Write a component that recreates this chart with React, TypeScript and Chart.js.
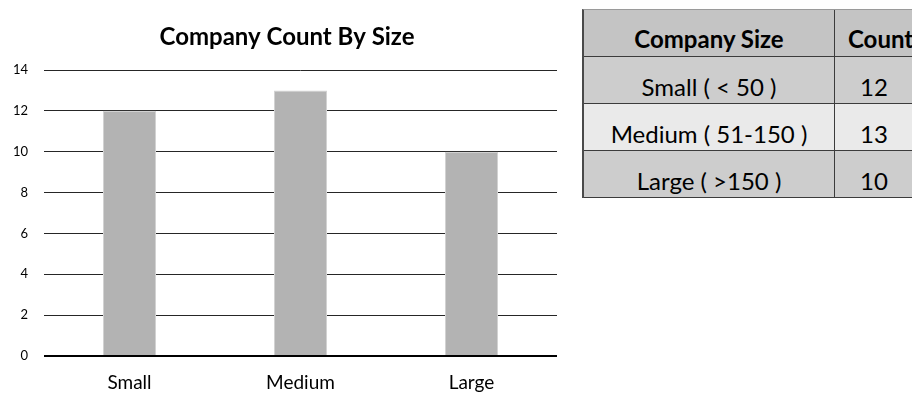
import React, { useEffect, useRef } from "react";
import { Chart, registerables } from "chart.js";

Chart.register(...registerables);

// Chart data
const categories: string[] = ["Small", "Medium", "Large"];
const companyCounts: number[] = [12, 13, 10];
const yMin = 0;
const yMax = 14;
const yStep = 2;

// Summary table data
const tableHeaders: string[] = ["Company Size", "Count"];
const sizeRangeLabels: string[] = ["Small ( < 50 )", "Medium ( 51-150 )", "Large ( >150 )"];
const tableCounts: number[] = [12, 13, 10];

const FONT = "Lato, 'Open Sans', sans-serif";

function CountChart() {
  const canvasRef = useRef<HTMLCanvasElement | null>(null);

  useEffect(() => {
    const canvas = canvasRef.current;
    if (!canvas) return;
    const chart = new Chart(canvas, {
      type: "bar",
      data: {
        labels: categories,
        datasets: [
          {
            data: companyCounts,
            backgroundColor: "#b3b3b3",
            borderColor: "#d2d2d2",
            borderWidth: 1,
            borderSkipped: "bottom",
            barPercentage: 0.31,
            categoryPercentage: 1,
          },
        ],
      },
      options: {
        animation: false,
        responsive: false,
        maintainAspectRatio: false,
        devicePixelRatio: 1,
        layout: { padding: { left: 0, right: 0, top: 0, bottom: 0 } },
        plugins: {
          legend: { display: false },
          tooltip: { enabled: false },
          title: {
            display: true,
            text: "Company Count By Size",
            color: "#000000",
            font: { family: FONT, size: 24, weight: "bold", lineHeight: 1.2 },
            padding: { top: 23, bottom: 18.2 },
          },
        },
        scales: {
          x: {
            grid: { display: false, drawTicks: false },
            border: { display: false },
            ticks: {
              color: "#000000",
              padding: 15.6,
              font: { family: FONT, size: 19 },
            },
            afterFit: (scale: any) => {
              scale.height = 37;
            },
          },
          y: {
            min: yMin,
            max: yMax,
            ticks: {
              stepSize: yStep,
              color: "#000000",
              padding: 16,
              font: { family: FONT, size: 13 },
            },
            grid: {
              drawTicks: false,
              color: (ctx: any) => (ctx.tick && ctx.tick.value === 0 ? "#000000" : "#262626"),
              lineWidth: (ctx: any) => (ctx.tick && ctx.tick.value === 0 ? 2 : 1),
            },
            border: { display: false },
            afterFit: (scale: any) => {
              scale.width = 44;
            },
          },
          // empty right-hand margin axis, keeps the plot clear of the table side
          yRight: {
            position: "right",
            display: true,
            grid: { display: false, drawTicks: false },
            border: { display: false },
            ticks: { display: false },
            afterFit: (scale: any) => {
              scale.width = 17;
            },
          },
        },
      },
    });
    return () => chart.destroy();
  }, []);

  return (
    <canvas
      ref={canvasRef}
      width={574}
      height={393}
      style={{ position: "absolute", left: 0, top: 0, width: 574, height: 393 }}
    />
  );
}

function SizeTable() {
  const colWidths = [251, 79];
  const rowHeight = 47;
  const rowBg = ["#cdcdcd", "#eaeaea", "#cdcdcd"];
  const cellBase: React.CSSProperties = {
    boxSizing: "border-box",
    height: rowHeight,
    borderRight: "1px solid #3c3c3c",
    borderBottom: "1px solid #3c3c3c",
    display: "flex",
    alignItems: "flex-end",
    justifyContent: "center",
    fontFamily: FONT,
    fontSize: 24,
    lineHeight: "24px",
    color: "#000000",
    whiteSpace: "nowrap",
  };
  return (
    <div
      style={{
        position: "absolute",
        left: 582,
        top: 9,
        borderLeft: "2px solid #4a4a4a",
        borderTop: "1px solid #9a9a9a",
        display: "grid",
        gridTemplateColumns: `${colWidths[0]}px ${colWidths[1]}px`,
      }}
    >
      <div style={{ ...cellBase, background: "#c4c4c4", fontWeight: "bold", paddingBottom: 5 }}>
        {tableHeaders[0]}
      </div>
      <div
        style={{
          ...cellBase,
          background: "#c4c4c4",
          fontWeight: "bold",
          paddingBottom: 5,
          justifyContent: "flex-start",
          paddingLeft: 13,
        }}
      >
        {tableHeaders[1]}
      </div>
      {sizeRangeLabels.map((label, i) => (
        <React.Fragment key={label}>
          <div style={{ ...cellBase, background: rowBg[i], paddingBottom: 4 }}>{label}</div>
          <div style={{ ...cellBase, background: rowBg[i], paddingBottom: 4 }}>{tableCounts[i]}</div>
        </React.Fragment>
      ))}
    </div>
  );
}

export default function App() {
  return (
    <div
      style={{
        position: "fixed",
        left: 0,
        top: 0,
        width: 912,
        height: 393,
        overflow: "hidden",
        background: "#ffffff",
      }}
    >
      <CountChart />
      <SizeTable />
    </div>
  );
}
